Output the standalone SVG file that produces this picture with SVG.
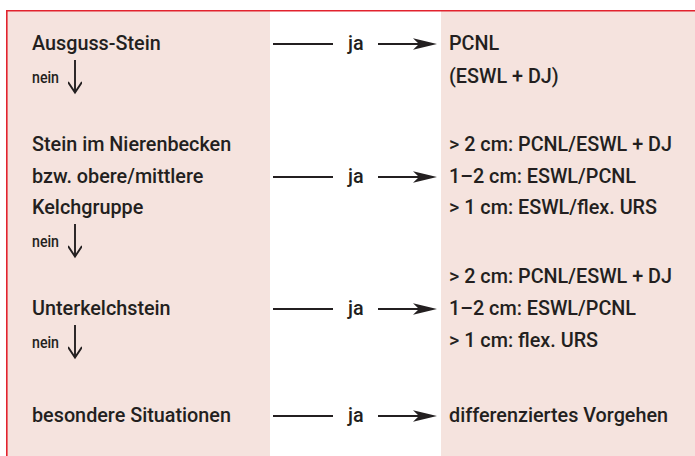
<svg xmlns="http://www.w3.org/2000/svg" width="695" height="456" viewBox="0 0 695 456">
  <defs>
    <!-- slender notched arrowhead for the "ja" connectors -->
    <marker id="ja-head" viewBox="0 0 24 12" refX="12" refY="6" markerWidth="24" markerHeight="12" markerUnits="userSpaceOnUse" orient="auto">
      <path d="M0,0.3 L24,6 L0,11.7 L6,6 Z" fill="#231f20"/>
    </marker>
    <!-- open V head for the "nein" arrows -->
    <marker id="nein-head" viewBox="0 0 16 14" refX="13" refY="7" markerWidth="16" markerHeight="14" markerUnits="userSpaceOnUse" orient="auto">
      <path d="M2.5,0 L13,7 L2.5,14" fill="none" stroke="#231f20" stroke-width="1.9" stroke-linejoin="miter"/>
    </marker>
    <style>
      .panel { fill: #f5e3de; }
      .frame { fill: none; stroke: #e2232e; stroke-width: 1.6; }
      .t { font-family: Roboto, "Liberation Sans", "DejaVu Sans", sans-serif; font-size: 19.8px; font-weight: 500; fill: #231f20; }
      .lbl { font-family: Roboto, "Liberation Sans", "DejaVu Sans", sans-serif; font-size: 19.8px; font-weight: 500; fill: #231f20; }
      .nein { font-family: Roboto, "Liberation Sans", "DejaVu Sans", sans-serif; font-size: 16.5px; font-weight: 500; fill: #231f20; }
      .line { fill: none; stroke: #231f20; stroke-width: 2; }
      .down { fill: none; stroke: #231f20; stroke-width: 1.9; }
      .yes { marker-end: url(#ja-head); }
      .no { marker-end: url(#nein-head); }
    </style>
  </defs>

  <!-- background panels -->
  <rect class="panel" x="7" y="11" width="263" height="445"/>
  <rect class="panel" x="441" y="11" width="254" height="445"/>
  <path class="frame" d="M6.8,456 V10.8 H695"/>

  <!-- question column -->
  <g id="q-ausguss">
    <text class="t" x="32" y="50">Ausguss-Stein</text>
  </g>
  <g id="q-nierenbecken">
    <text class="t" x="32" y="151">Stein im Nierenbecken</text>
    <text class="t" x="32" y="183">bzw. obere/mittlere</text>
    <text class="t" x="32" y="214">Kelchgruppe</text>
  </g>
  <g id="q-unterkelch">
    <text class="t" x="32" y="315">Unterkelchstein</text>
  </g>
  <g id="q-besondere">
    <text class="t" x="32" y="422">besondere Situationen</text>
  </g>

  <!-- treatment column -->
  <g id="a-ausguss">
    <text class="t" x="449" y="50">PCNL</text>
    <text class="t" x="449" y="83">(ESWL + DJ)</text>
  </g>
  <g id="a-nierenbecken">
    <text class="t" x="449" y="151">&gt; 2 cm: PCNL/ESWL + DJ</text>
    <text class="t" x="449" y="183">1–2 cm: ESWL/PCNL</text>
    <text class="t" x="449" y="214">&gt; 1 cm: ESWL/flex. URS</text>
  </g>
  <g id="a-unterkelch">
    <text class="t" x="449" y="283">&gt; 2 cm: PCNL/ESWL + DJ</text>
    <text class="t" x="449" y="315">1–2 cm: ESWL/PCNL</text>
    <text class="t" x="449" y="347">&gt; 1 cm: flex. URS</text>
  </g>
  <g id="a-besondere">
    <text class="t" x="449" y="422">differenziertes Vorgehen</text>
  </g>

  <!-- connectors -->
  <g id="connectors">
    <!-- ja: question to treatment -->
    <path class="line" d="M273,44 H333"/>
    <text class="lbl" x="348" y="50">ja</text>
    <path class="line yes" d="M378,44 H425"/>

    <path class="line" d="M273,177 H333"/>
    <text class="lbl" x="348" y="183">ja</text>
    <path class="line yes" d="M378,177 H425"/>

    <path class="line" d="M273,309 H333"/>
    <text class="lbl" x="348" y="315">ja</text>
    <path class="line yes" d="M378,309 H425"/>

    <path class="line" d="M273,416 H333"/>
    <text class="lbl" x="348" y="422">ja</text>
    <path class="line yes" d="M378,416 H425"/>

    <!-- nein: on to the next question -->
    <text class="nein" x="32" y="83" textLength="27" lengthAdjust="spacingAndGlyphs">nein</text>
    <path class="down no" d="M75,60 V92.5"/>

    <text class="nein" x="32" y="247" textLength="27" lengthAdjust="spacingAndGlyphs">nein</text>
    <path class="down no" d="M75,224 V256.5"/>

    <text class="nein" x="32" y="348" textLength="27" lengthAdjust="spacingAndGlyphs">nein</text>
    <path class="down no" d="M75,325 V357.5"/>
  </g>
</svg>
